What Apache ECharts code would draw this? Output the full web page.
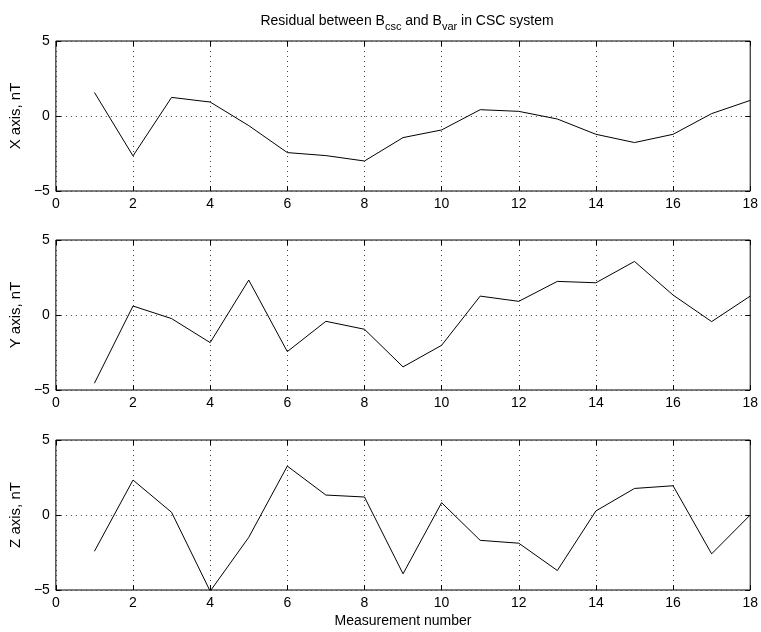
<!DOCTYPE html>
<html><head><meta charset="utf-8">
<script src="https://cdn.jsdelivr.net/npm/echarts@6/dist/echarts.min.js"></script>
<style>html,body{margin:0;padding:0;background:#fff}#c{width:761px;height:632px}</style>
</head><body><div id="c"></div>
<script>
const measurement = [1,2,3,4,5,6,7,8,9,10,11,12,13,14,15,16,17,18];
const xResidual = [1.57,-2.66,1.24,0.93,-0.64,-2.44,-2.64,-3.0,-1.44,-0.93,0.42,0.31,-0.2,-1.22,-1.77,-1.22,0.16,1.04];
const yResidual = [-4.55,0.6,-0.24,-1.84,2.33,-2.44,-0.42,-0.95,-3.46,-2.02,1.26,0.91,2.24,2.15,3.57,1.33,-0.44,1.26];
const zResidual = [-2.42,2.33,0.18,-5.08,-1.49,3.26,1.33,1.2,-3.92,0.82,-1.69,-1.88,-3.7,0.27,1.77,1.95,-2.59,0.0];
const panelNames = ['X axis, nT','Y axis, nT','Z axis, nT'];
const xTicks = {min:0, max:18, interval:2};
const yTicks = {min:-5, max:5, interval:5};

const series3 = [xResidual, yResidual, zResidual];
const tops = [41, 240, 440];
const FONT = '"Liberation Sans Narrow", "Liberation Sans", Arial, sans-serif';
const grids = [], xAxes = [], yAxes = [], series = [];
const tick = {show:true, inside:true, length:5, lineStyle:{color:'#000'}};
series3.forEach((vals, i) => {
  grids.push({left:54, right:10, top:tops[i], height:150, show:true, borderColor:'#000', borderWidth:1, backgroundColor:'#fff'});
  const last = i === 2;
  xAxes.push({type:'value', gridIndex:i, position:'bottom', min:xTicks.min, max:xTicks.max, interval:xTicks.interval,
    axisLine:{show:false, onZero:false}, axisTick:tick,
    axisLabel:{color:'#000', fontFamily:FONT, fontSize:14, margin:6},
    splitLine:{show:true, lineStyle:{color:'#444', type:[1,4], width:1}},
    name: last ? 'Measurement number' : '', nameLocation:'middle', nameGap:24,
    nameTextStyle:{color:'#000', fontFamily:FONT, fontSize:14}});
  xAxes.push({type:'value', gridIndex:i, position:'top', min:xTicks.min, max:xTicks.max, interval:xTicks.interval,
    axisLine:{show:false, onZero:false}, axisTick:tick,
    axisLabel:{show:false}, splitLine:{show:false}});
  yAxes.push({type:'value', gridIndex:i, position:'left', min:yTicks.min, max:yTicks.max, interval:yTicks.interval,
    axisLine:{show:false, onZero:false}, axisTick:tick,
    axisLabel:{color:'#000', fontFamily:FONT, fontSize:14, margin:6, formatter:v => String(v).replace('-', '\u2212')},
    splitLine:{show:true, lineStyle:{color:'#444', type:[1,4], width:1}},
    name: panelNames[i], nameLocation:'middle', nameGap:26,
    nameTextStyle:{color:'#000', fontFamily:'"Liberation Sans", Arial, sans-serif', fontSize:15}});
  yAxes.push({type:'value', gridIndex:i, position:'right', min:yTicks.min, max:yTicks.max, interval:yTicks.interval,
    axisLine:{show:false, onZero:false}, axisTick:tick,
    axisLabel:{show:false}, splitLine:{show:false}});
  series.push({type:'line', xAxisIndex:2*i, yAxisIndex:2*i, data: measurement.map((m, k) => [m, vals[k]]),
    showSymbol:false, symbol:'none', lineStyle:{color:'#000', width:1}, animation:false, clip:true});
});

const chart = echarts.init(document.getElementById('c'), null, {renderer:'canvas'});
chart.setOption({
  animation:false,
  backgroundColor:'#fff',
  title:{left:402, textAlign:'center', top:6,
    text:'Residual between B{s|csc} and B{s|var} in CSC system',
    textStyle:{color:'#000', fontFamily:FONT, fontSize:14, fontWeight:'normal',
      rich:{s:{fontFamily:FONT, fontSize:11, color:'#000', verticalAlign:'bottom', padding:[10,0,0,0]}}}},
  grid: grids, xAxis: xAxes, yAxis: yAxes, series: series
});
</script></body></html>
